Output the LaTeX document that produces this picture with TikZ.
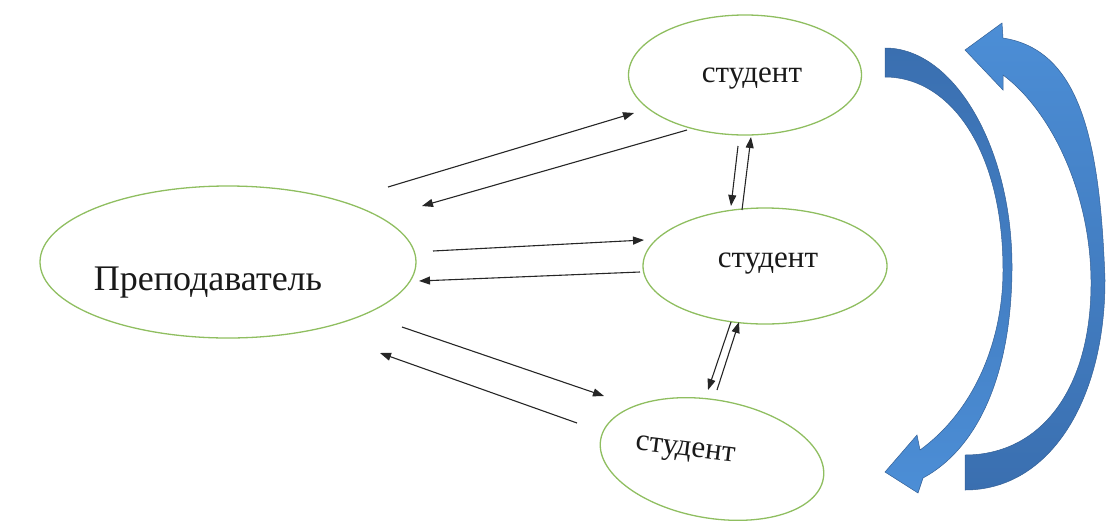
\documentclass[tikz,border=0pt]{standalone}
\usepackage{fontspec}
\setmainfont{Liberation Serif}
\usetikzlibrary{arrows.meta, positioning, shapes.geometric}

\definecolor{ovalgreen}{RGB}{143,190,96}
\definecolor{bluedark}{RGB}{58,111,176}
\definecolor{bluelight}{RGB}{76,142,214}
\definecolor{blueedge}{RGB}{52,96,150}

\tikzset{
  oval/.style={ellipse, draw=ovalgreen, line width=1.3pt, inner sep=0pt},
  msg/.style={draw=black!85, line width=1.1pt, -{Triangle[length=11pt,width=8pt]}},
  word/.style={font=\fontsize{31}{31}\selectfont, text=black!90},
  round arrow/.style={draw=blueedge, line width=0.5pt}
}

\begin{document}
\begin{tikzpicture}[x=1pt, y=-1pt]
      \useasboundingbox (0,0) rectangle (1106,523);

      % Ovals
      \node[oval, minimum width=376pt, minimum height=152pt] (teacher) at (228,262) {};
      \node[oval, minimum width=233pt, minimum height=120pt] (s1) at (745,75) {};
      \node[oval, minimum width=244pt, minimum height=116pt] (s2) at (765,266) {};
      \node[oval, minimum width=226pt, minimum height=118pt, rotate=-10] (s3) at (712,459) {};

      % Labels
      \node[word, font=\fontsize{36}{36}\selectfont, anchor=base] (tlabel) at (208,290) {Преподаватель};
      \node[word, anchor=base] (s1label) at (752,82) {студент};
      \node[word, anchor=base] (s2label) at (768,267) {студент};
      \node[word, rotate=-7] (s3label) at (685,452) {студент};

      % Define points
      \coordinate (T1) at (388,187);
      \coordinate (T2) at (422,206);
      \coordinate (T3) at (433,251);
      \coordinate (T4) at (419,281);
      \coordinate (T5) at (402,327);
      \coordinate (T6) at (380,353);
      \coordinate (A1) at (634,113);
      \coordinate (A2) at (687,130);
      \coordinate (A3) at (738,146);
      \coordinate (A4) at (751,137);
      \coordinate (B1) at (644,240);
      \coordinate (B2) at (640,272);
      \coordinate (B3) at (731,206);
      \coordinate (B4) at (742,210);
      \coordinate (B5) at (731,322);
      \coordinate (B6) at (739,322);
      \coordinate (C1) at (604,396);
      \coordinate (C2) at (577,423);
      \coordinate (C3) at (708,390);
      \coordinate (C4) at (717,390);

      % Teacher <-> students
      \draw[msg] (T1) -- (A1);
      \draw[msg] (A2) -- (T2);
      \draw[msg] (T3) -- (B1);
      \draw[msg] (B2) -- (T4);
      \draw[msg] (T5) -- (C1);
      \draw[msg] (C2) -- (T6);

      % Student <-> student
      \draw[msg] (A3) -- (B3);
      \draw[msg] (B4) -- (A4);
      \draw[msg] (B5) -- (C3);
      \draw[msg] (C4) -- (B6);

      % Big curved arrows
      \path[round arrow, top color=bluedark, bottom color=bluelight]
        (885,48) .. controls (955,48) and (1013,150) .. (1012,270)
        .. controls (1011,380) and (975,450) .. (923,478)
        -- (918,493) -- (885,472) -- (917,435) -- (920,450)
        .. controls (975,410) and (1003,340) .. (1003,270)
        .. controls (1003,150) and (950,77) .. (885,77) -- cycle;
      \path[round arrow, top color=bluelight, bottom color=bluedark]
        (965,490) .. controls (1050,490) and (1105,400) .. (1105,280)
        .. controls (1100,140) and (1080,50) .. (1003,38)
        -- (1002,23) -- (965,50) -- (1003,90) -- (1003,75)
        .. controls (1050,110) and (1090,190) .. (1091,280)
        .. controls (1092,390) and (1040,455) .. (965,455) -- cycle;
\end{tikzpicture}
\end{document}
